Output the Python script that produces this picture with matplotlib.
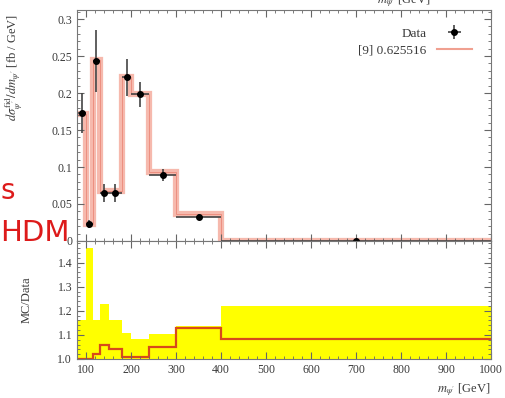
import numpy as np
import matplotlib
matplotlib.use('Agg')
import matplotlib.pyplot as plt
from matplotlib.ticker import MultipleLocator

plt.rcParams['font.family'] = ['Liberation Serif', 'DejaVu Serif']
plt.rcParams['mathtext.fontset'] = 'stix'

# bin edges in m_psi' [GeV]
edges = [80, 100, 115, 130, 150, 180, 200, 240, 300, 400, 1000]

# data points (bin centres) with errors
data_y = [0.173, 0.023, 0.243, 0.065, 0.065, 0.221, 0.198, 0.089, 0.033, 0.0005]
data_err = [0.027, 0.006, 0.042, 0.012, 0.012, 0.025, 0.017, 0.008, 0.003, 0.001]

# MC prediction ([9] 0.625516)
mc_y = [0.172, 0.023, 0.245, 0.068, 0.067, 0.222, 0.199, 0.093, 0.037, 0.0005]

# ratio panel: MC/Data and uncertainty band
ratio = [1.0, 1.0, 1.02, 1.06, 1.04, 1.01, 1.01, 1.05, 1.13, 1.085]
band = [1.16, 1.46, 1.16, 1.23, 1.16, 1.11, 1.085, 1.105, 1.135, 1.22]

centres = [(a + b) / 2 for a, b in zip(edges[:-1], edges[1:])]
half_w = [(b - a) / 2 for a, b in zip(edges[:-1], edges[1:])]

txt = '#3a3a3a'
fig = plt.figure(figsize=(5.05, 3.98), dpi=100)
ax = fig.add_axes([0.1525, 0.3945, 0.82, 0.580])
axr = fig.add_axes([0.1525, 0.098, 0.82, 0.2965], sharex=ax)

# top panel
ax.stairs(mc_y, edges, baseline=None, color='#f6b9ad', lw=4.5)
ax.stairs(mc_y, edges, baseline=None, color='#ec8f80', lw=0.7)
eb = ax.errorbar(centres, data_y, yerr=data_err, xerr=half_w, fmt='o', ms=4,
                 color='black', ecolor='#444444', elinewidth=1.2, capsize=0)
ax.set_xlim(80, 1000)
ax.set_ylim(0, 0.312)
ax.yaxis.set_minor_locator(MultipleLocator(0.01))
ax.set_yticks([0, 0.05, 0.1, 0.15, 0.2, 0.25, 0.3])
ax.set_yticklabels(['0', '0.05', '0.1', '0.15', '0.2', '0.25', '0.3'])
ax.set_ylabel(r"$d\sigma^{\rm fid}_{\psi'}/dm_{\psi'}$ [fb / GeV]", fontsize=9, color=txt)
ax.tick_params(labelbottom=False)

leg_handles = [eb, plt.Line2D([], [], color='#f0a090', lw=1.5)]
ax.legend(leg_handles, ['Data', '[9] 0.625516'], loc='upper right',
          bbox_to_anchor=(0.975, 0.965), frameon=False, markerfirst=False,
          fontsize=9.5, handlelength=2.6, labelcolor=txt, borderpad=0.2,
          labelspacing=0.35)

# ratio panel
axr.stairs(band, edges, baseline=1.0, fill=True, color='#ffff00', lw=0)
axr.stairs(ratio, edges, baseline=None, color='#d84a1a', lw=1.6)
axr.set_ylim(1.0, 1.49)
axr.set_yticks([1.0, 1.1, 1.2, 1.3, 1.4])
axr.set_yticklabels(['1.0', '1.1', '1.2', '1.3', '1.4'])
axr.yaxis.set_minor_locator(MultipleLocator(0.02))
axr.set_ylabel('MC/Data', fontsize=9, color=txt)
axr.set_xticks(range(100, 1001, 100))
axr.xaxis.set_minor_locator(MultipleLocator(20))
axr.set_xlabel(r"$m_{\psi'}$ [GeV]", fontsize=9, color=txt, loc='right')

for a in (ax, axr):
    a.tick_params(which='both', direction='in', top=True, right=True,
                  colors='#666666', labelcolor=txt, labelsize=8.5)
    a.tick_params(which='major', length=5)
    a.tick_params(which='minor', length=2.5)
    for s in a.spines.values():
        s.set_color('#777777')
        s.set_linewidth(0.8)
ax.yaxis.set_label_coords(-0.125, 0.75)
axr.yaxis.set_label_coords(-0.108, 0.5)

# slide fragments around the plot
fig.text(0.0, 0.52, 's', color='#dd1a1a', fontsize=20, family='DejaVu Sans',
         ha='left', va='center')
fig.text(0.0, 0.415, 'HDM', color='#dd1a1a', fontsize=21, family='DejaVu Sans',
         ha='left', va='center')
fig.text(0.80, 0.998, r"$m_{\psi'}$ [GeV]", color=txt, fontsize=9,
         ha='center', va='center')

fig.savefig('out.png', dpi=100)
